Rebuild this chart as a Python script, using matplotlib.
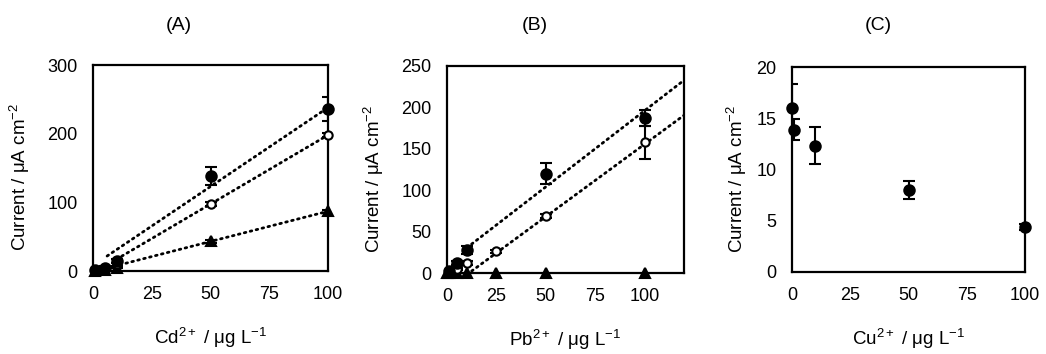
import matplotlib
matplotlib.use("Agg")
import matplotlib.pyplot as plt
import numpy as np

plt.rcParams['font.family'] = ['Liberation Sans', 'DejaVu Sans']
plt.rcParams['mathtext.fontset'] = 'custom'
plt.rcParams['mathtext.rm'] = 'Liberation Sans'
plt.rcParams['mathtext.it'] = 'Liberation Sans'

# ---------------- Panel A : Cd2+ ----------------
a_x = [1, 5, 10, 50, 100]
a_filled = [2, 5, 15, 138, 236]
a_filled_err = [1, 2, 3, 13, 17]
a_open = [1, 3, 10, 98, 198]
a_open_err = [0.5, 1, 2, 3, 3]
a_tri = [0.5, 1, 5, 43, 87]
a_tri_err = [0.3, 0.5, 1, 2, 2]
# trendlines: (slope, intercept, x_start, x_end)
a_trend_filled = (2.30, 8.0, 6, 100)
a_trend_open = (2.01, -3.0, 10, 100)
a_trend_tri = (0.88, -1.0, 14, 100)

# ---------------- Panel B : Pb2+ ----------------
b_x_filled = [1, 5, 10, 50, 100]
b_filled = [3, 12, 28, 120, 187]
b_filled_err = [1, 2, 5, 12.5, 10]
b_x_open = [1, 5, 10, 25, 50, 100]
b_open = [1, 5, 12, 26, 69, 158]
b_open_err = [0.5, 1, 2, 2, 2, 20]
b_x_tri = [0, 1, 5, 10, 25, 50, 100]
b_tri = [0, 0, 0, 0, 0, 0, 0]
b_trend_filled = (1.84, 12.0, 10, 120)
b_trend_open = (1.75, -19.5, 10, 120)
b_trend_tri = (0.0, 0.0, 0, 120)

# ---------------- Panel C : Cu2+ ----------------
c_x = [0, 1, 10, 50, 100]
c_filled = [16.0, 13.9, 12.3, 8.0, 4.4]
c_filled_err = [2.3, 1.0, 1.8, 0.85, 0.3]

titles = ['(A)', '(B)', '(C)']
xlabels = [r'Cd$^{2+}$ / μg L$^{-1}$', r'Pb$^{2+}$ / μg L$^{-1}$', r'Cu$^{2+}$ / μg L$^{-1}$']
ylabel = r'Current / μA cm$^{-2}$'

FS = 13
LFS = 13.5
TFS = 14

fig = plt.figure(figsize=(10.46, 3.54), dpi=100)
W, H = 1046, 354
def add_axes(l, r, t, b):
    return fig.add_axes([l / W, 1 - b / H, (r - l) / W, (b - t) / H])

axA = add_axes(93, 328, 65, 271)
axB = add_axes(447, 684, 66, 273)
axC = add_axes(792, 1025, 67, 272)

def style(ax, xlim, ylim, xticks, yticks):
    ax.set_xlim(*xlim)
    ax.set_ylim(*ylim)
    ax.set_xticks(xticks)
    ax.set_yticks(yticks)
    ax.tick_params(length=0, labelsize=FS, pad=11, colors='#000000')
    for s in ax.spines.values():
        s.set_linewidth(1.6)
        s.set_color('black')
        s.set_zorder(2.5)

def trend(ax, params, ls):
    m, b, x0, x1 = params
    xs = np.array([x0, x1], dtype=float)
    ax.plot(xs, m * xs + b, color='black', lw=2.0, linestyle=ls,
            dash_capstyle='round', zorder=2, clip_on=True)

DOT = (0, (0.6, 1.6))

def series(ax, x, y, err, marker, ms, mfc, zorder=3):
    if err is not None:
        ax.errorbar(x, y, yerr=err, fmt='none', ecolor='black', elinewidth=1.5,
                    capsize=4, capthick=1.5, zorder=zorder)
    ax.plot(x, y, linestyle='none', marker=marker, ms=ms, mfc=mfc, mec='black',
            mew=1.5, zorder=zorder + 0.1, clip_on=False)

# Panel A
style(axA, (0, 100), (0, 300), [0, 25, 50, 75, 100], [0, 100, 200, 300])
trend(axA, a_trend_filled, DOT)
trend(axA, a_trend_open, DOT)
trend(axA, a_trend_tri, DOT)
series(axA, a_x, a_tri, a_tri_err, '^', 7.5, 'black')
series(axA, a_x, a_open, a_open_err, 'o', 6, 'white')
series(axA, a_x, a_filled, a_filled_err, 'o', 7.5, 'black')

# Panel B
style(axB, (0, 120), (0, 250), [0, 25, 50, 75, 100], [0, 50, 100, 150, 200, 250])
trend(axB, b_trend_filled, DOT)
trend(axB, b_trend_open, DOT)
trend(axB, b_trend_tri, (0, (2.5, 1.5)))
series(axB, b_x_tri, b_tri, None, '^', 7.5, 'black')
series(axB, b_x_open, b_open, b_open_err, 'o', 6, 'white')
series(axB, b_x_filled, b_filled, b_filled_err, 'o', 7.5, 'black')

# Panel C
style(axC, (0, 100), (0, 20), [0, 25, 50, 75, 100], [0, 5, 10, 15, 20])
series(axC, c_x, c_filled, c_filled_err, 'o', 7.5, 'black')

for ax, t, xl, ylx, tx in zip([axA, axB, axC], titles, xlabels,
                               [-0.31, -0.31, -0.237], [179, 535, 878]):
    ax.text(0.5, -0.325, xl, transform=ax.transAxes, ha='center', va='center',
            fontsize=LFS)
    ax.text(ylx, 0.455, ylabel, transform=ax.transAxes, ha='center', va='center',
            rotation=90, fontsize=LFS)
    fig.text(tx / W, 1 - 25 / H, t, ha='center', va='center', fontsize=TFS)

fig.savefig('out.png', dpi=100, facecolor='white')
